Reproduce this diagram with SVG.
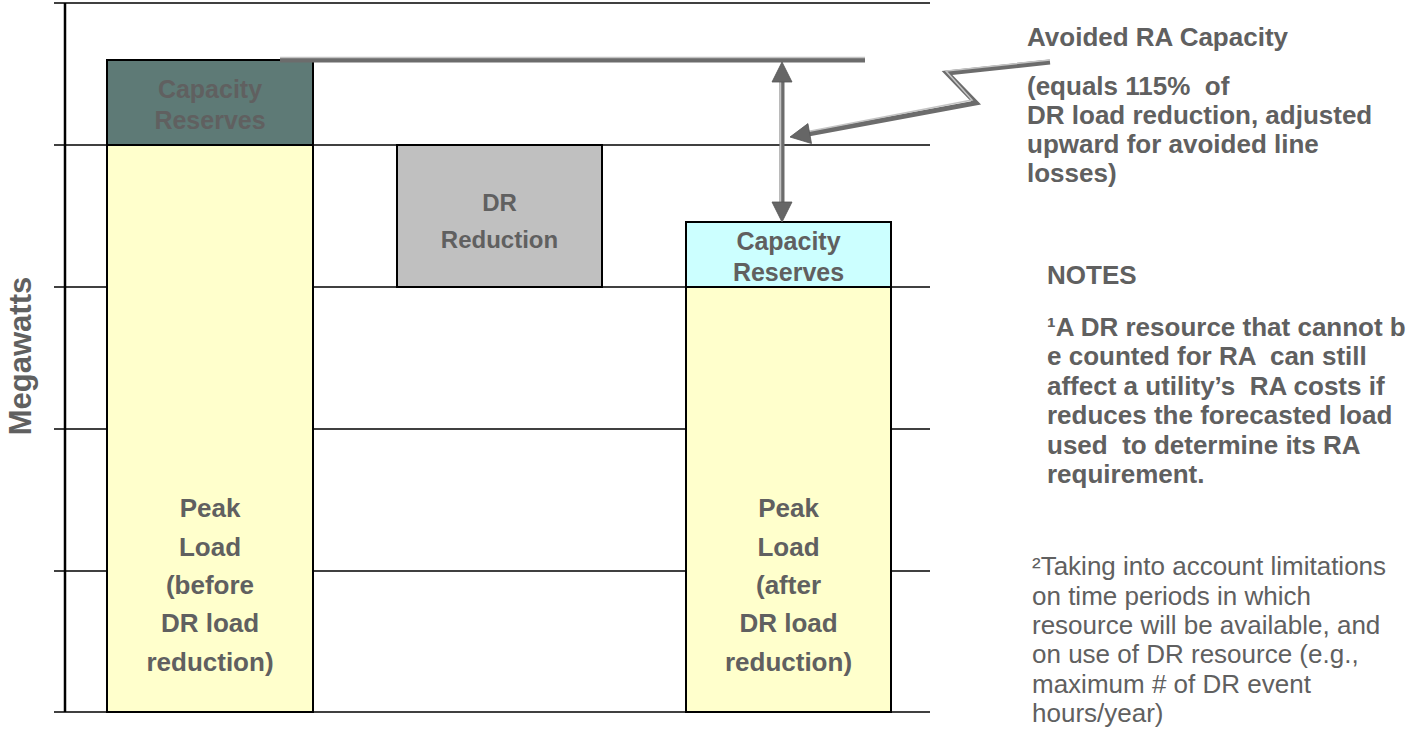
<svg xmlns="http://www.w3.org/2000/svg" width="1416" height="739" viewBox="0 0 1416 739">
  <defs>
    <style>
      .grid { stroke: #000; stroke-width: 1.5; fill: none; }
      .axis { stroke: #000; stroke-width: 2.5; fill: none; }
      .bar { stroke: #000; stroke-width: 2; }
      .lbl { font-family: "Liberation Sans", Arial, sans-serif; font-weight: bold; fill: #606060; text-anchor: middle; }
      .side { font-family: "Liberation Sans", Arial, sans-serif; font-weight: bold; fill: #606060; font-size: 26px; white-space: pre; }
      .note { font-family: "Liberation Sans", Arial, sans-serif; fill: #606060; font-size: 26px; white-space: pre; }
      .wire { stroke: #6c6c6c; stroke-width: 5; fill: none; stroke-linejoin: miter; }
      .shine { stroke: #c4c4c4; stroke-width: 1.5; fill: none; }
      .head { fill: #666; stroke: #555; stroke-width: 0.8; }
    </style>
  </defs>

  <rect width="1416" height="739" fill="#fff"/>

  <!-- value axis with gridlines -->
  <g id="axis">
    <line class="grid" x1="54" y1="3" x2="930" y2="3"/>
    <line class="grid" x1="54" y1="145" x2="930" y2="145"/>
    <line class="grid" x1="54" y1="287" x2="930" y2="287"/>
    <line class="grid" x1="54" y1="429" x2="930" y2="429"/>
    <line class="grid" x1="54" y1="571" x2="930" y2="571"/>
    <line class="grid" x1="54" y1="712" x2="930" y2="712"/>
    <line class="axis" x1="65" y1="3" x2="65" y2="712"/>
    <text class="lbl" font-size="31" transform="translate(31,356) rotate(-90)">Megawatts</text>
  </g>

  <!-- stacked bar: before demand response -->
  <g id="peak-before">
    <rect class="bar" x="107" y="145" width="206" height="567" fill="#FFFFCC"/>
    <text class="lbl" font-size="26" x="210" y="517">Peak</text>
    <text class="lbl" font-size="26" x="210" y="556">Load</text>
    <text class="lbl" font-size="26" x="210" y="594">(before</text>
    <text class="lbl" font-size="26" x="210" y="632">DR load</text>
    <text class="lbl" font-size="26" x="210" y="671">reduction)</text>
  </g>
  <g id="reserves-before">
    <rect class="bar" x="107" y="60" width="206" height="85" fill="#5E7A76"/>
    <text class="lbl" font-size="25" x="210" y="98" fill="#5a605f">Capacity</text>
    <text class="lbl" font-size="25" x="210" y="129" fill="#5a605f">Reserves</text>
  </g>

  <!-- floating DR reduction block -->
  <g id="dr-reduction">
    <rect class="bar" x="397" y="145" width="205" height="142" fill="#C0C0C0"/>
    <text class="lbl" font-size="24" x="499.5" y="211">DR</text>
    <text class="lbl" font-size="24" x="499.5" y="248">Reduction</text>
  </g>

  <!-- stacked bar: after demand response -->
  <g id="peak-after">
    <rect class="bar" x="686" y="287" width="205" height="425" fill="#FFFFCC"/>
    <text class="lbl" font-size="26" x="788.5" y="517">Peak</text>
    <text class="lbl" font-size="26" x="788.5" y="556">Load</text>
    <text class="lbl" font-size="26" x="788.5" y="594">(after</text>
    <text class="lbl" font-size="26" x="788.5" y="632">DR load</text>
    <text class="lbl" font-size="26" x="788.5" y="671">reduction)</text>
  </g>
  <g id="reserves-after">
    <rect class="bar" x="686" y="222" width="205" height="65" fill="#CCFFFF"/>
    <text class="lbl" font-size="25" x="788.5" y="250">Capacity</text>
    <text class="lbl" font-size="25" x="788.5" y="281">Reserves</text>
  </g>

  <!-- connectors: reference level, span arrow and callout -->
  <g id="connectors">
    <line class="wire" x1="280" y1="60" x2="865" y2="60" stroke-width="6"/>
    <line class="shine" x1="280" y1="57.5" x2="865" y2="57.5"/>

    <line class="wire" x1="782" y1="78" x2="782" y2="206"/>
    <line class="shine" x1="780.5" y1="80" x2="780.5" y2="204"/>
    <polygon class="head" points="782,62 792,82 772,82"/>
    <polygon class="head" points="782,222 792,202 772,202"/>

    <polyline class="wire" points="1050,62 947,73 976,103 808,134"/>
    <polyline class="shine" points="1050,60 946,71 972,100 808,131.5"/>
    <polygon class="head" points="790,137 811.5,143.5 807.9,123.6"/>
  </g>

  <!-- callout and notes -->
  <g id="callout">
    <text class="side" x="1027" y="46">Avoided RA Capacity</text>
    <text class="side" x="1027" y="95">(equals 115%  of</text>
    <text class="side" x="1027" y="124">DR load reduction, adjusted</text>
    <text class="side" x="1027" y="153">upward for avoided line</text>
    <text class="side" x="1027" y="182">losses)</text>
  </g>

  <g id="notes">
    <text class="side" x="1047" y="284">NOTES</text>
    <text class="side" x="1047" y="336">¹A DR resource that cannot b</text>
    <text class="side" x="1047" y="365">e counted for RA  can still</text>
    <text class="side" x="1047" y="395">affect a utility’s  RA costs if</text>
    <text class="side" x="1047" y="424">reduces the forecasted load</text>
    <text class="side" x="1047" y="454">used  to determine its RA</text>
    <text class="side" x="1047" y="483">requirement.</text>

    <text class="note" x="1032" y="575">²Taking into account limitations</text>
    <text class="note" x="1032" y="605">on time periods in which</text>
    <text class="note" x="1032" y="634">resource will be available, and</text>
    <text class="note" x="1032" y="663">on use of DR resource (e.g.,</text>
    <text class="note" x="1032" y="693">maximum # of DR event</text>
    <text class="note" x="1032" y="722">hours/year)</text>
  </g>
</svg>
